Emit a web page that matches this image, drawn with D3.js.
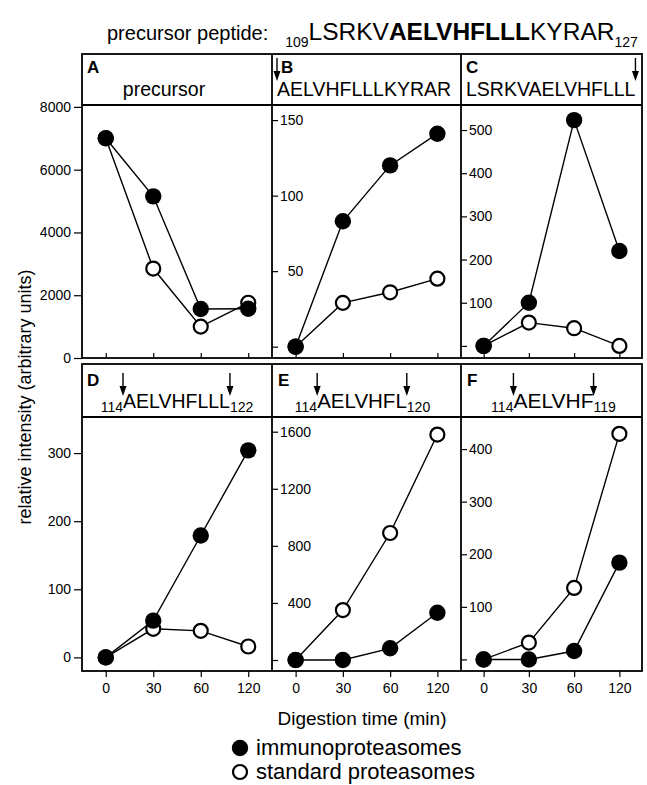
<!DOCTYPE html>
<html>
<head>
<meta charset="utf-8">
<script src="https://cdn.jsdelivr.net/npm/d3@7"></script>
<style>
  body { margin: 0; background: #fff; }
  text { font-family: "Liberation Sans", Arial, Helvetica, sans-serif; fill: #000; }
</style>
</head>
<body>
<div id="canvas"></div>
<script>
// digestion time points
var times = ["0", "30", "60", "120"];

// relative intensity, immunoproteasomes (filled) and standard proteasomes (open)
var immunoA = [7000, 5150, 1560, 1570];
var standardA = [7000, 2850, 1000, 1760];
var immunoB = [0, 83, 120, 141];
var standardB = [0, 29, 36, 45];
var immunoC = [0, 100, 523, 220];
var standardC = [0, 54, 41, 0];
var immunoD = [0, 54, 179, 304];
var standardD = [0, 42, 39, 16];
var immunoE = [0, 0, 82, 331];
var standardE = [0, 350, 890, 1580];
var immunoF = [0, 0, 16, 184];
var standardF = [0, 32, 136, 429];

// y extents and ticks of each panel
var domainA = [0, 8060], ticksA = [0, 2000, 4000, 6000, 8000];
var domainB = [-7.5, 160], ticksB = [0, 50, 100, 150];
var domainC = [-28, 558], ticksC = [0, 100, 200, 300, 400, 500];
var domainD = [-20, 353], ticksD = [0, 100, 200, 300];
var domainE = [-77, 1703], ticksE = [0, 400, 800, 1200, 1600];
var domainF = [-22, 461], ticksF = [0, 100, 200, 300, 400];

// header texts (arrows = cleavage sites)
var headerA = [{t: "precursor"}];
var headerB = [{arrow: 1}, {t: "AELVHFLLLKYRAR"}];
var headerC = [{t: "LSRKVAELVHFLLL"}, {arrow: 1}];
var headerD = [{t: "114", sub: 1}, {arrow: 1}, {t: "AELVHFLLL"}, {arrow: 1}, {t: "122", sub: 1}];
var headerE = [{t: "114", sub: 1}, {arrow: 1}, {t: "AELVHFL"}, {arrow: 1}, {t: "120", sub: 1}];
var headerF = [{t: "114", sub: 1}, {arrow: 1}, {t: "AELVHF"}, {arrow: 1}, {t: "119", sub: 1}];
var titleParts = [{t: "precursor peptide:", size: 20, gap: 17}, {t: "109", sub: 1}, {t: "LSRKV"},
                  {t: "AELVHFLLL", bold: 1}, {t: "KYRAR"}, {t: "127", sub: 1}];

var colX = [82, 272, 461, 642];
var rows = [
    {hTop: 54, top: 105, bottom: 358, letterY: 73, textY: 96, arrowTop: 58, arrowTip: 81},
    {hTop: 364, top: 417, bottom: 671, letterY: 386, textY: 408, arrowTop: 373, arrowTip: 396}
];

var panels = [
    {name: "A", row: 0, col: 0, im: immunoA, st: standardA, dom: domainA, ticks: ticksA, head: headerA, align: "middle", lx: 5, hs: 19.5, hdx: -13},
    {name: "B", row: 0, col: 1, im: immunoB, st: standardB, dom: domainB, ticks: ticksB, head: headerB, align: "start", lx: 9, hs: 19.5},
    {name: "C", row: 0, col: 2, im: immunoC, st: standardC, dom: domainC, ticks: ticksC, head: headerC, align: "start", lx: 5, hs: 19.5},
    {name: "D", row: 1, col: 0, im: immunoD, st: standardD, dom: domainD, ticks: ticksD, head: headerD, align: "middle", lx: 5, hs: 19.5},
    {name: "E", row: 1, col: 1, im: immunoE, st: standardE, dom: domainE, ticks: ticksE, head: headerE, align: "middle", lx: 6, hs: 20.5, hdx: -4},
    {name: "F", row: 1, col: 2, im: immunoF, st: standardF, dom: domainF, ticks: ticksF, head: headerF, align: "middle", lx: 6, hs: 21, hdx: 2}
];

var svg = d3.select("#canvas").append("svg")
    .attr("width", 647)
    .attr("height", 785);

// lays out a run of text pieces (regular / bold / subscript) and draws the arrows between them
function drawParts(parts, o) {
    var g = svg.append("g");
    var x = 0, arrows = [];
    parts.forEach(function(p) {
        if (p.arrow) { arrows.push(x); return; }
        var t = g.append("text")
            .attr("x", x)
            .attr("y", p.sub ? o.subDy : 0)
            .style("font-size", (p.sub ? o.subSize : (p.size || o.size)) + "px")
            .style("font-weight", p.bold ? "bold" : null)
            .text(p.t);
        x += t.node().getComputedTextLength() + (p.gap || 0);
    });
    var off = o.align === "middle" ? o.x - x / 2 : o.x;
    g.attr("transform", "translate(" + off + "," + o.y + ")");
    arrows.forEach(function(ax) {
        var top = o.arrowTop - o.y, tip = o.arrowTip - o.y;
        g.append("line")
            .attr("x1", ax).attr("x2", ax)
            .attr("y1", top).attr("y2", tip - 6)
            .attr("stroke", "#000").attr("stroke-width", 1.4);
        g.append("path")
            .attr("d", "M" + (ax - 3.5) + "," + (tip - 10) + "L" + (ax + 3.5) + "," + (tip - 10) + "L" + ax + "," + tip + "Z")
            .attr("fill", "#000");
    });
}

// title
drawParts(titleParts, {x: 107, y: 40, size: 24.5, subSize: 14, subDy: 7, align: "start"});

// frames
rows.forEach(function(r) {
    svg.append("rect")
        .attr("x", colX[0]).attr("y", r.hTop)
        .attr("width", colX[3] - colX[0]).attr("height", r.bottom - r.hTop)
        .attr("fill", "none").attr("stroke", "#000").attr("stroke-width", 1.8);
    svg.append("line")
        .attr("x1", colX[0]).attr("x2", colX[3])
        .attr("y1", r.top).attr("y2", r.top)
        .attr("stroke", "#000").attr("stroke-width", 1.8);
    [colX[1], colX[2]].forEach(function(cx) {
        svg.append("line")
            .attr("x1", cx).attr("x2", cx)
            .attr("y1", r.hTop).attr("y2", r.bottom)
            .attr("stroke", "#000").attr("stroke-width", 1.8);
    });
});

panels.forEach(function(p) {
    var r = rows[p.row];
    var x0 = colX[p.col], x1 = colX[p.col + 1];

    var x = d3.scalePoint().domain(times).range([x0, x1]).padding(0.5);
    var y = d3.scaleLinear().domain(p.dom).range([r.bottom, r.top]);

    // header
    svg.append("text")
        .attr("x", x0 + p.lx).attr("y", r.letterY)
        .style("font-size", "17px").style("font-weight", "bold")
        .text(p.name);
    drawParts(p.head, {
        x: p.align === "middle" ? (x0 + x1) / 2 + (p.hdx || 0) : x0 + 5,
        y: r.textY, size: p.hs, subSize: 14, subDy: 4, align: p.align,
        arrowTop: r.arrowTop, arrowTip: r.arrowTip
    });

    // y axis
    var yAxis;
    if (p.col === 0) {
        yAxis = d3.axisLeft(y).tickValues(p.ticks).tickSize(8).tickPadding(3)
            .tickFormat(d3.format("d"));
    } else {
        yAxis = d3.axisRight(y).tickValues(p.ticks).tickSize(6).tickPadding(2)
            .tickFormat(function(d) { return d === 0 ? "" : d3.format("d")(d); });
    }
    var ya = svg.append("g")
        .attr("transform", "translate(" + x0 + ",0)")
        .call(yAxis);
    ya.select(".domain").remove();
    ya.selectAll("text").style("font-size", "14px").style("font-family", null);
    ya.selectAll("line").attr("stroke-width", 1.2);
    if (p.col !== 0) {
        var maxW = d3.max(ya.selectAll("text").nodes(), function(n) { return n.getComputedTextLength(); });
        ya.selectAll("text").attr("text-anchor", "end").attr("x", 8 + maxW);
    }

    // x axis
    var xAxis = p.row === 0
        ? d3.axisBottom(x).tickSize(-5).tickFormat("")
        : d3.axisBottom(x).tickSize(6).tickPadding(6);
    var xa = svg.append("g")
        .attr("transform", "translate(0," + r.bottom + ")")
        .call(xAxis);
    xa.select(".domain").remove();
    xa.selectAll("text").style("font-size", "14px").style("font-family", null);
    xa.selectAll("line").attr("stroke-width", 1.2);

    var line = d3.line()
        .x(function(d, i) { return x(times[i]); })
        .y(function(d) { return y(d); });

    [p.st, p.im].forEach(function(s) {
        svg.append("path")
            .datum(s)
            .attr("d", line)
            .attr("fill", "none")
            .attr("stroke", "#000")
            .attr("stroke-width", 1.4);
    });

    svg.append("g").selectAll("circle")
        .data(p.st)
        .enter()
        .append("circle")
        .attr("cx", function(d, i) { return x(times[i]); })
        .attr("cy", function(d) { return y(d); })
        .attr("r", 7)
        .attr("fill", "#fff")
        .attr("stroke", "#000")
        .attr("stroke-width", 2.2);

    svg.append("g").selectAll("circle")
        .data(p.im)
        .enter()
        .append("circle")
        .attr("cx", function(d, i) { return x(times[i]); })
        .attr("cy", function(d) { return y(d); })
        .attr("r", 8.2)
        .attr("fill", "#000");
});

// axis titles
svg.append("text")
    .attr("transform", "translate(31,397) rotate(-90)")
    .attr("text-anchor", "middle")
    .style("font-size", "18px")
    .text("relative intensity (arbitrary units)");

svg.append("text")
    .attr("x", (colX[0] + colX[3]) / 2)
    .attr("y", 725)
    .attr("text-anchor", "middle")
    .style("font-size", "19px")
    .text("Digestion time (min)");

// legend
svg.append("circle").attr("cx", 240).attr("cy", 748).attr("r", 8.2).attr("fill", "#000");
svg.append("text").attr("x", 256).attr("y", 755).style("font-size", "22px").text("immunoproteasomes");
svg.append("circle").attr("cx", 240).attr("cy", 772).attr("r", 7).attr("fill", "#fff")
    .attr("stroke", "#000").attr("stroke-width", 2.2);
svg.append("text").attr("x", 256).attr("y", 779).style("font-size", "22px").text("standard proteasomes");
</script>
</body>
</html>
